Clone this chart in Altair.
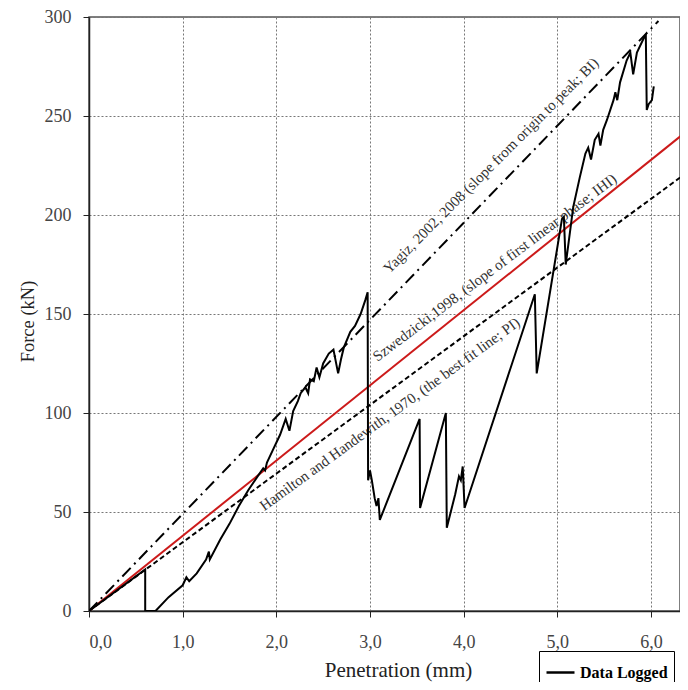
import altair as alt
import pandas as pd

# ---- Data logged (penetration mm, force kN) ----
pen = [0.0, 0.6, 0.6, 0.71, 0.85, 1.0, 1.04, 1.07, 1.15, 1.25,
       1.28, 1.29, 1.4, 1.5, 1.6, 1.7, 1.8, 1.86, 1.88, 1.9,
       1.96, 2.04, 2.1, 2.14, 2.18, 2.23, 2.26, 2.31, 2.34, 2.36,
       2.40, 2.43, 2.46, 2.50, 2.56, 2.61, 2.66, 2.69, 2.72, 2.79,
       2.84, 2.90, 2.95, 2.975, 2.98, 3.0, 3.02, 3.05, 3.07, 3.09,
       3.105, 3.53, 3.535, 3.81, 3.82, 3.91, 3.95, 3.97, 3.99, 4.01,
       4.76, 4.78, 5.05, 5.07, 5.09, 5.17, 5.24, 5.30, 5.33, 5.36,
       5.40, 5.44, 5.46, 5.49, 5.53, 5.60, 5.62, 5.64, 5.67, 5.74,
       5.78, 5.81, 5.85, 5.92, 5.945, 5.955, 5.975, 6.01, 6.03]
force = [0, 21, 0, 0, 7, 13, 17, 15, 19, 26,
         30, 26, 36, 44, 53, 61, 68, 72, 71, 75,
         81, 89, 97, 91, 101, 106, 110, 113, 110, 117,
         116, 123, 118, 125, 130, 132, 120, 127, 133, 141,
         144, 150, 157, 161, 66, 71, 66, 57, 53, 57,
         46, 97, 52, 100, 42, 59, 68, 66, 73, 52,
         160, 120, 198, 199, 175, 204, 219, 231, 234, 228,
         238, 241, 235, 243, 248, 258, 262, 258, 267, 278,
         282, 271, 282, 289, 291, 253, 256, 258, 265]

# ---- Reference lines from origin ----
yagiz_end = [6.08, 298]
szwed_end = [6.4, 243]
hamil_end = [6.4, 222]

# ---- Annotations ----
ann_text = ["Yagiz, 2002, 2008 (slope from origin to peak; BI)",
            "Szwedzicki,1998, (slope of first linear phase; IHI)",
            "Hamilton and Handewith, 1970, (the best fit line; PI)"]
ann_x = [4.29, 4.33, 3.21]
ann_y = [225, 173.5, 99.5]
ann_angle = [315, 323, 324]

x_ticks = [0, 1, 2, 3, 4, 5, 6]
y_ticks = [0, 50, 100, 150, 200, 250, 300]

FONT = "Liberation Serif"

df_data = pd.DataFrame({"x": pen, "y": force, "i": list(range(len(pen))),
                        "series": ["Data Logged"] * len(pen)})
df_yagiz = pd.DataFrame({"x": [0, yagiz_end[0]], "y": [0, yagiz_end[1]]})
df_szwed = pd.DataFrame({"x": [0, szwed_end[0]], "y": [0, szwed_end[1]]})
df_hamil = pd.DataFrame({"x": [0, hamil_end[0]], "y": [0, hamil_end[1]]})
df_ann = pd.DataFrame({"x": ann_x, "y": ann_y, "t": ann_text, "a": ann_angle})

X = alt.X("x:Q", scale=alt.Scale(domain=[0, 6.31], nice=False, zero=False),
          axis=alt.Axis(values=x_ticks, format=".1f",
                        labelExpr="replace(datum.label, '.', ',')",
                        title="Penetration (mm)", titleX=309, titleY=65,
                        titleBaseline="alphabetic", titleAnchor="start",
                        titleAlign="center",
                        grid=True, labelPadding=16))
Y = alt.Y("y:Q", scale=alt.Scale(domain=[0, 300], nice=False),
          axis=alt.Axis(values=y_ticks, title="Force (kN)", titleX=-56,
                        titleY=304, titleAngle=270, titleBaseline="alphabetic",
                        titleAlign="center", titleFontSize=18.5, grid=True,
                        labelPadding=12))

ham = alt.Chart(df_hamil).mark_line(color="black", strokeWidth=2,
                                     strokeDash=[5, 3], clip=True).encode(x=X, y=Y)
sz = alt.Chart(df_szwed).mark_line(color="#cc1a1a", strokeWidth=2,
                                    clip=True).encode(x=X, y=Y)
ya = alt.Chart(df_yagiz).mark_line(color="black", strokeWidth=2,
                                    strokeDash=[12, 5, 2, 5], clip=True).encode(x=X, y=Y)

texts = alt.Chart(df_ann).mark_text(font=FONT, fontSize=15, color="#333333",
                                    align="center", baseline="middle").encode(
    x=X, y=Y, text="t:N", angle=alt.Angle("a:Q", scale=None))

data_line = alt.Chart(df_data).mark_line(strokeWidth=2, clip=True).encode(
    x=X, y=Y, order="i:Q",
    color=alt.Color("series:N",
                    scale=alt.Scale(domain=["Data Logged"], range=["black"]),
                    legend=alt.Legend(title=None, orient="none", legendX=450,
                                      legendY=634, strokeColor="black",
                                      fillColor="white", padding=6,
                                      symbolType="stroke", symbolStrokeWidth=2.5,
                                      symbolSize=784, labelFont=FONT,
                                      labelFontSize=16, labelFontWeight="bold",
                                      labelColor="black", labelOffset=4)))

chart = alt.layer(ham, sz, ya, texts, data_line).properties(
    width=591, height=594,
    padding={"left": 81, "top": 9, "right": 0, "bottom": 71},
    autosize=alt.AutoSizeParams(type="none"),
    background="white",
).configure_view(stroke="#555555", strokeWidth=1.5).configure_axis(
    labelFont=FONT, labelFontSize=18, labelColor="#444444",
    titleFont=FONT, titleFontSize=21, titleColor="#222222", titleFontWeight="normal",
    gridColor="#777777", gridDash=[2, 2], gridWidth=1,
    domainColor="#222222", domainWidth=1.5,
    tickColor="#222222", tickSize=6, tickWidth=1,
)

chart.save("out.html", embed_options={"renderer": "svg", "actions": False})
